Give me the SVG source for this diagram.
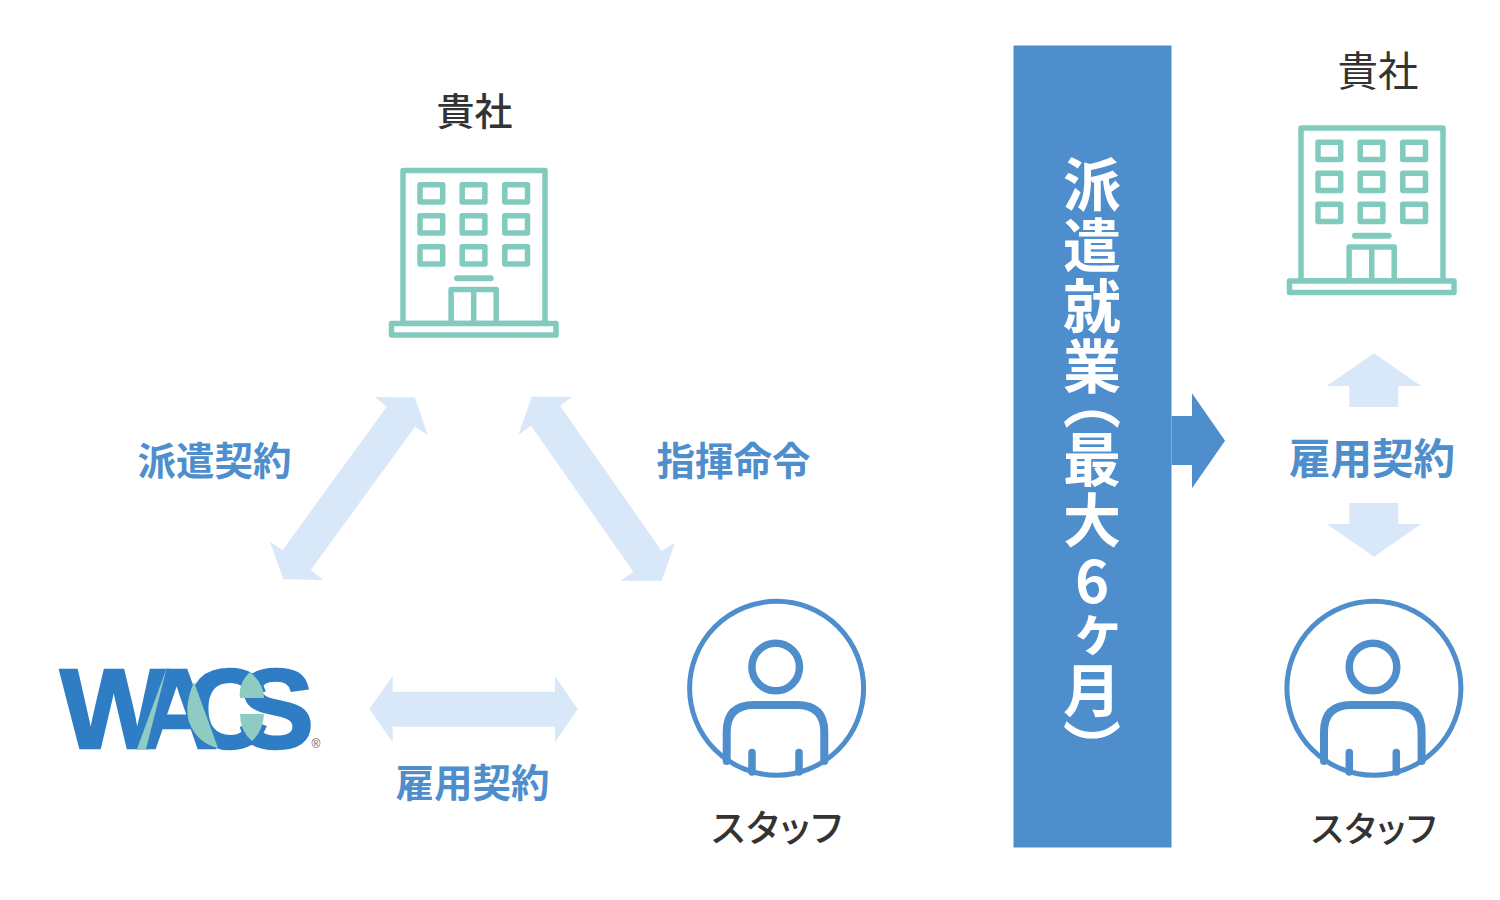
<svg xmlns="http://www.w3.org/2000/svg" xmlns:xlink="http://www.w3.org/1999/xlink" width="1500" height="900" viewBox="0 0 1500 900">
<style>
text{font-family:"Noto Sans CJK JP","Noto Sans",sans-serif}
.dark{fill:#333;font-weight:500;text-anchor:middle;font-feature-settings:"palt"}
.lbl{fill:#4f8ecc;font-weight:700;text-anchor:middle;font-feature-settings:"palt"}
.light{fill:#d9e8f8}
.tl{fill:none;stroke:#80cbbd;stroke-width:5.5;stroke-linejoin:round}
.pb{fill:none;stroke:#4f8ecc;stroke-linecap:round}
</style>
<defs>
<g id="building">
<rect class="tl" x="403" y="170.5" width="142" height="153"/>
<rect x="391.5" y="323.5" width="164.5" height="11.5" class="tl" style="fill:#fff"/>
<rect class="tl" x="420" y="184.8" width="22.7" height="17.2"/><rect class="tl" x="462.2" y="184.8" width="22.7" height="17.2"/><rect class="tl" x="504.8" y="184.8" width="22.7" height="17.2"/>
<rect class="tl" x="420" y="215.8" width="22.7" height="17.2"/><rect class="tl" x="462.2" y="215.8" width="22.7" height="17.2"/><rect class="tl" x="504.8" y="215.8" width="22.7" height="17.2"/>
<rect class="tl" x="420" y="246.8" width="22.7" height="17.2"/><rect class="tl" x="462.2" y="246.8" width="22.7" height="17.2"/><rect class="tl" x="504.8" y="246.8" width="22.7" height="17.2"/>
<path class="tl" d="M457 278.3H490.7" style="stroke-width:6;stroke-linecap:round"/>
<path class="tl" d="M451.1 323V289.5H496.2V323M473.7 289.5V323"/>
</g>
<g id="person">
<circle cx="776.6" cy="688.3" r="87" fill="none" stroke="#4f8ecc" stroke-width="5"/>
<circle cx="775.7" cy="667" r="23.8" fill="none" stroke="#4f8ecc" stroke-width="7.5"/>
<path class="pb" stroke-width="8" d="M726.7 761V732Q726.7 705 754 705H797Q824.3 705 824.3 732V761"/>
<path class="pb" stroke-width="7.5" d="M752 752.5V772M799 752.5V772"/>
</g>
</defs>
<g id="connectors">
<polygon class="light" points="375,397 415,397.5 427.7,435 415,426.7 310.7,570 323.3,580 283.3,579.3 270,541.7 282.7,550 386.7,406.7"/>
<polygon class="light" points="531.7,396.7 572.3,396.7 560,405.7 661.7,551 675,542.7 661.7,580.7 620.7,580.7 633.3,571.7 531,425.7 518.3,435"/>
<polygon class="light" points="369.3,709 392.7,676 392.7,691.7 555,691.7 555,676 577.7,709 555,742.3 555,726.7 392.7,726.7 392.7,742.3"/>
<polygon class="light" points="1374,353.3 1421,386 1398.3,386 1398.3,407 1349.3,407 1349.3,386 1326.7,386"/>
<polygon class="light" points="1349.3,503 1398.3,503 1398.3,524 1421,524 1374,556.7 1326.7,524 1349.3,524"/>
<polygon fill="#4f8ecc" points="1171.5,416 1192,416 1192,393.3 1225,440.7 1192,488.3 1192,465 1171.5,465"/>
</g>
<g id="client-left">
<text class="dark" x="474.5" y="125" font-size="38">貴社</text>
<use href="#building" xlink:href="#building"/>
</g>
<g id="wacs">
<text x="60 135.5 186 238" y="748" font-size="114" fill="#2f7dc4" stroke="#2f7dc4" stroke-width="2.4" style="font-family:'Liberation Sans',sans-serif;font-weight:700">WACS</text>
<path fill="#8ecbc2" d="M167 667L137 749H146L167 667Z"/>
<path fill="#8ecbc2" d="M194 682Q184 705 189 722Q197 743 218 748Z"/>
<path fill="#8ecbc2" d="M250 672Q238 683 240 698H264Q264 684 250 672Z"/>
<path fill="#8ecbc2" d="M240 714H264Q263 731 252 741Q240 731 240 714Z"/>
<text x="316" y="748" font-size="12" fill="#666" text-anchor="middle" style="font-family:'Liberation Sans',sans-serif">®</text>
</g>
<g id="staff-left">
<use href="#person" xlink:href="#person"/>
<text class="dark" x="777.5" y="841.5" font-size="37" letter-spacing="1.5">スタッフ</text>
</g>
<g id="labels">
<text class="lbl" x="214.5" y="475" font-size="38.5">派遣契約</text>
<text class="lbl" x="733.5" y="475" font-size="38.5">指揮命令</text>
<text class="lbl" x="472.5" y="796.5" font-size="38.5">雇用契約</text>
<text class="lbl" x="1372" y="473.5" font-size="41.5">雇用契約</text>
</g>
<g id="dispatch-band">
<rect x="1013.5" y="45.5" width="158" height="802" fill="#4f8ecc"/>
<text x="1092" y="155" font-size="58" fill="#fff" font-weight="700" style="writing-mode:vertical-rl;text-orientation:upright;font-feature-settings:'vpal';letter-spacing:2.8px">派遣就業（最大6ヶ月）</text>
</g>
<g id="client-right">
<text class="dark" x="1378" y="86" font-size="40.5" style="font-weight:400">貴社</text>
<use href="#building" xlink:href="#building" x="898" y="-42.5"/>
</g>
<g id="staff-right">
<use href="#person" xlink:href="#person" x="597.3"/>
<text class="dark" x="1374.5" y="841.5" font-size="35.5" letter-spacing="1.5">スタッフ</text>
</g>
</svg>
